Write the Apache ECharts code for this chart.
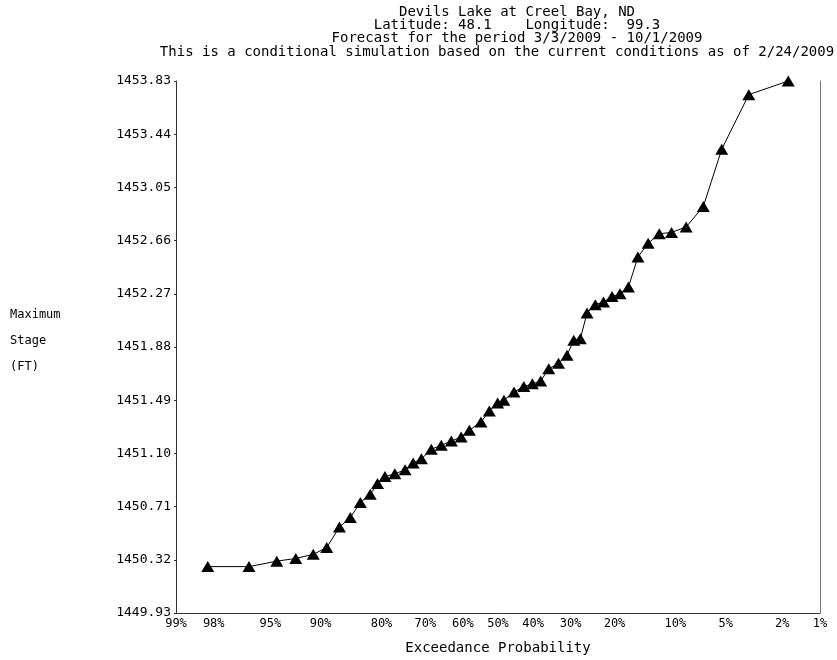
<!DOCTYPE html>
<html><head><meta charset="utf-8">
<script src="https://cdn.jsdelivr.net/npm/echarts@6/dist/echarts.min.js"></script>
<style>html,body{margin:0;padding:0;background:#fff}#c{width:837px;height:660px}</style>
</head><body><div id="c"></div>
<script>
// ---- data ----
const titleLines = [
  'Devils Lake at Creel Bay, ND',
  'Latitude: 48.1    Longitude:  99.3',
  'Forecast for the period 3/3/2009 - 10/1/2009',
  'This is a conditional simulation based on the current conditions as of 2/24/2009'
];
const yAxisNameLines = ['Maximum', 'Stage', '(FT)'];
const xAxisName = 'Exceedance Probability';
// exceedance probability (%) of each plotted trace
const exceedance = [98.2, 96.4, 94.5, 92.8, 90.9, 89.2, 87.4, 85.7, 84.0, 82.2,
  80.8, 79.3, 77.2, 74.9, 73.0, 71.0, 68.5, 65.9, 63.2, 60.5,
  58.2, 54.9, 52.5, 50.1, 48.3, 45.4, 42.6, 40.2, 37.9, 35.7,
  33.1, 30.9, 29.2, 27.6, 26.0, 24.1, 22.3, 20.5, 18.9, 17.3,
  15.6, 13.9, 12.2, 10.5, 8.7, 6.9, 5.3, 3.5, 1.8];
// maximum stage (ft)
const stage = [1450.27, 1450.27, 1450.31, 1450.33, 1450.36, 1450.41, 1450.56, 1450.63, 1450.74, 1450.80,
  1450.88, 1450.93, 1450.95, 1450.98, 1451.03, 1451.06, 1451.13, 1451.16, 1451.19, 1451.22,
  1451.27, 1451.33, 1451.41, 1451.47, 1451.49, 1451.55, 1451.59, 1451.61, 1451.63, 1451.72,
  1451.76, 1451.82, 1451.93, 1451.94, 1452.13, 1452.19, 1452.21, 1452.25, 1452.27, 1452.32,
  1452.54, 1452.64, 1452.71, 1452.72, 1452.76, 1452.91, 1453.33, 1453.73, 1453.83];
const xTickProbs = [99, 98, 95, 90, 80, 70, 60, 50, 40, 30, 20, 10, 5, 2, 1];
const xTickLabels = ['99%', '98%', '95%', '90%', '80%', '70%', '60%', '50%', '40%', '30%', '20%', '10%', '5%', '2%', '1%'];
const yTicks = [1449.93, 1450.32, 1450.71, 1451.10, 1451.49, 1451.88, 1452.27, 1452.66, 1453.05, 1453.44, 1453.83];

// ---- normal probability scale (inverse normal CDF, Acklam) ----
function probit(p) {
  const a = [-3.969683028665376e+01, 2.209460984245205e+02, -2.759285104469687e+02, 1.383577518672690e+02, -3.066479806614716e+01, 2.506628277459239e+00];
  const b = [-5.447609879822406e+01, 1.615858368580409e+02, -1.556989798598866e+02, 6.680131188771972e+01, -1.328068155288572e+01];
  const c = [-7.784894002430293e-03, -3.223964580411365e-01, -2.400758277161838e+00, -2.549671010229583e+00, 4.374664141464968e+00, 2.938163982698783e+00];
  const d = [7.784695709041462e-03, 3.224671290700398e-01, 2.445134137142996e+00, 3.754408661907416e+00];
  const plow = 0.02425;
  let q, r;
  if (p < plow) {
    q = Math.sqrt(-2 * Math.log(p));
    return (((((c[0]*q+c[1])*q+c[2])*q+c[3])*q+c[4])*q+c[5]) / ((((d[0]*q+d[1])*q+d[2])*q+d[3])*q+1);
  } else if (p <= 1 - plow) {
    q = p - 0.5; r = q*q;
    return (((((a[0]*r+a[1])*r+a[2])*r+a[3])*r+a[4])*r+a[5])*q / (((((b[0]*r+b[1])*r+b[2])*r+b[3])*r+b[4])*r+1);
  } else {
    q = Math.sqrt(-2 * Math.log(1 - p));
    return -(((((c[0]*q+c[1])*q+c[2])*q+c[3])*q+c[4])*q+c[5]) / ((((d[0]*q+d[1])*q+d[2])*q+d[3])*q+1);
  }
}
// exceedance % -> position on the normal-probability axis (high exceedance on the left)
const toAxis = pct => probit(1 - pct / 100);

const points = exceedance.map((e, i) => [toAxis(e), stage[i]]);
const xTickPos = xTickProbs.map(toAxis);

const FONT = '"DejaVu Sans Mono", monospace';
const chart = echarts.init(document.getElementById('c'), null, {renderer: 'canvas'});

const graphics = [];
titleLines.forEach((t, i) => {
  graphics.push({
    type: 'text', x: i === 3 ? 497 : 517, y: 12 + i * 13.4,
    style: {text: t, font: '14px ' + FONT, fill: '#000', align: 'center', verticalAlign: 'middle',
      textAlign: 'center', textVerticalAlign: 'middle'}
  });
});
yAxisNameLines.forEach((t, i) => {
  graphics.push({
    type: 'text', x: 10, y: 315 + i * 26,
    style: {text: t, font: '12px ' + FONT, fill: '#000', align: 'left', verticalAlign: 'middle',
      textAlign: 'left', textVerticalAlign: 'middle'}
  });
});
graphics.push({
  type: 'text', x: 498, y: 648,
  style: {text: xAxisName, font: '14px ' + FONT, fill: '#000', align: 'center', verticalAlign: 'middle',
    textAlign: 'center', textVerticalAlign: 'middle'}
});

chart.setOption({
  animation: false,
  backgroundColor: '#fff',
  grid: {left: 176, right: 17, top: 81, bottom: 47, containLabel: false},
  graphic: graphics,
  xAxis: {
    type: 'value',
    min: toAxis(99), max: toAxis(1),
    axisLine: {show: true, onZero: false, lineStyle: {color: '#333', width: 1}},
    axisTick: {show: false},
    splitLine: {show: false},
    axisLabel: {
      customValues: xTickPos,
      showMinLabel: true, showMaxLabel: true,
      margin: 5,
      color: '#000', fontFamily: FONT, fontSize: 12,
      formatter: function (v) {
        let best = 0, bd = Infinity;
        xTickPos.forEach((p, i) => { const dd = Math.abs(p - v); if (dd < bd) { bd = dd; best = i; } });
        return xTickLabels[best];
      }
    }
  },
  yAxis: [{
    type: 'value', position: 'left',
    min: yTicks[0], max: yTicks[yTicks.length - 1],
    axisLine: {show: true, onZero: false, lineStyle: {color: '#333', width: 1}},
    axisTick: {show: true, customValues: yTicks, length: 2, lineStyle: {color: '#333'}},
    splitLine: {show: false},
    axisLabel: {
      customValues: yTicks,
      showMinLabel: true, showMaxLabel: true,
      margin: 5,
      color: '#000', fontFamily: FONT, fontSize: 13,
      formatter: v => v.toFixed(2)
    }
  }, {
    type: 'value', position: 'right',
    min: yTicks[0], max: yTicks[yTicks.length - 1],
    axisLine: {show: true, onZero: false, lineStyle: {color: '#777', width: 1}},
    axisTick: {show: false}, axisLabel: {show: false}, splitLine: {show: false}
  }],
  series: [{
    type: 'line',
    data: points,
    symbol: 'triangle',
    symbolSize: [13, 11],
    showAllSymbol: true,
    itemStyle: {color: '#000', borderWidth: 0},
    lineStyle: {color: '#000', width: 1},
    emphasis: {disabled: true}
  }]
});
</script>
</body></html>
